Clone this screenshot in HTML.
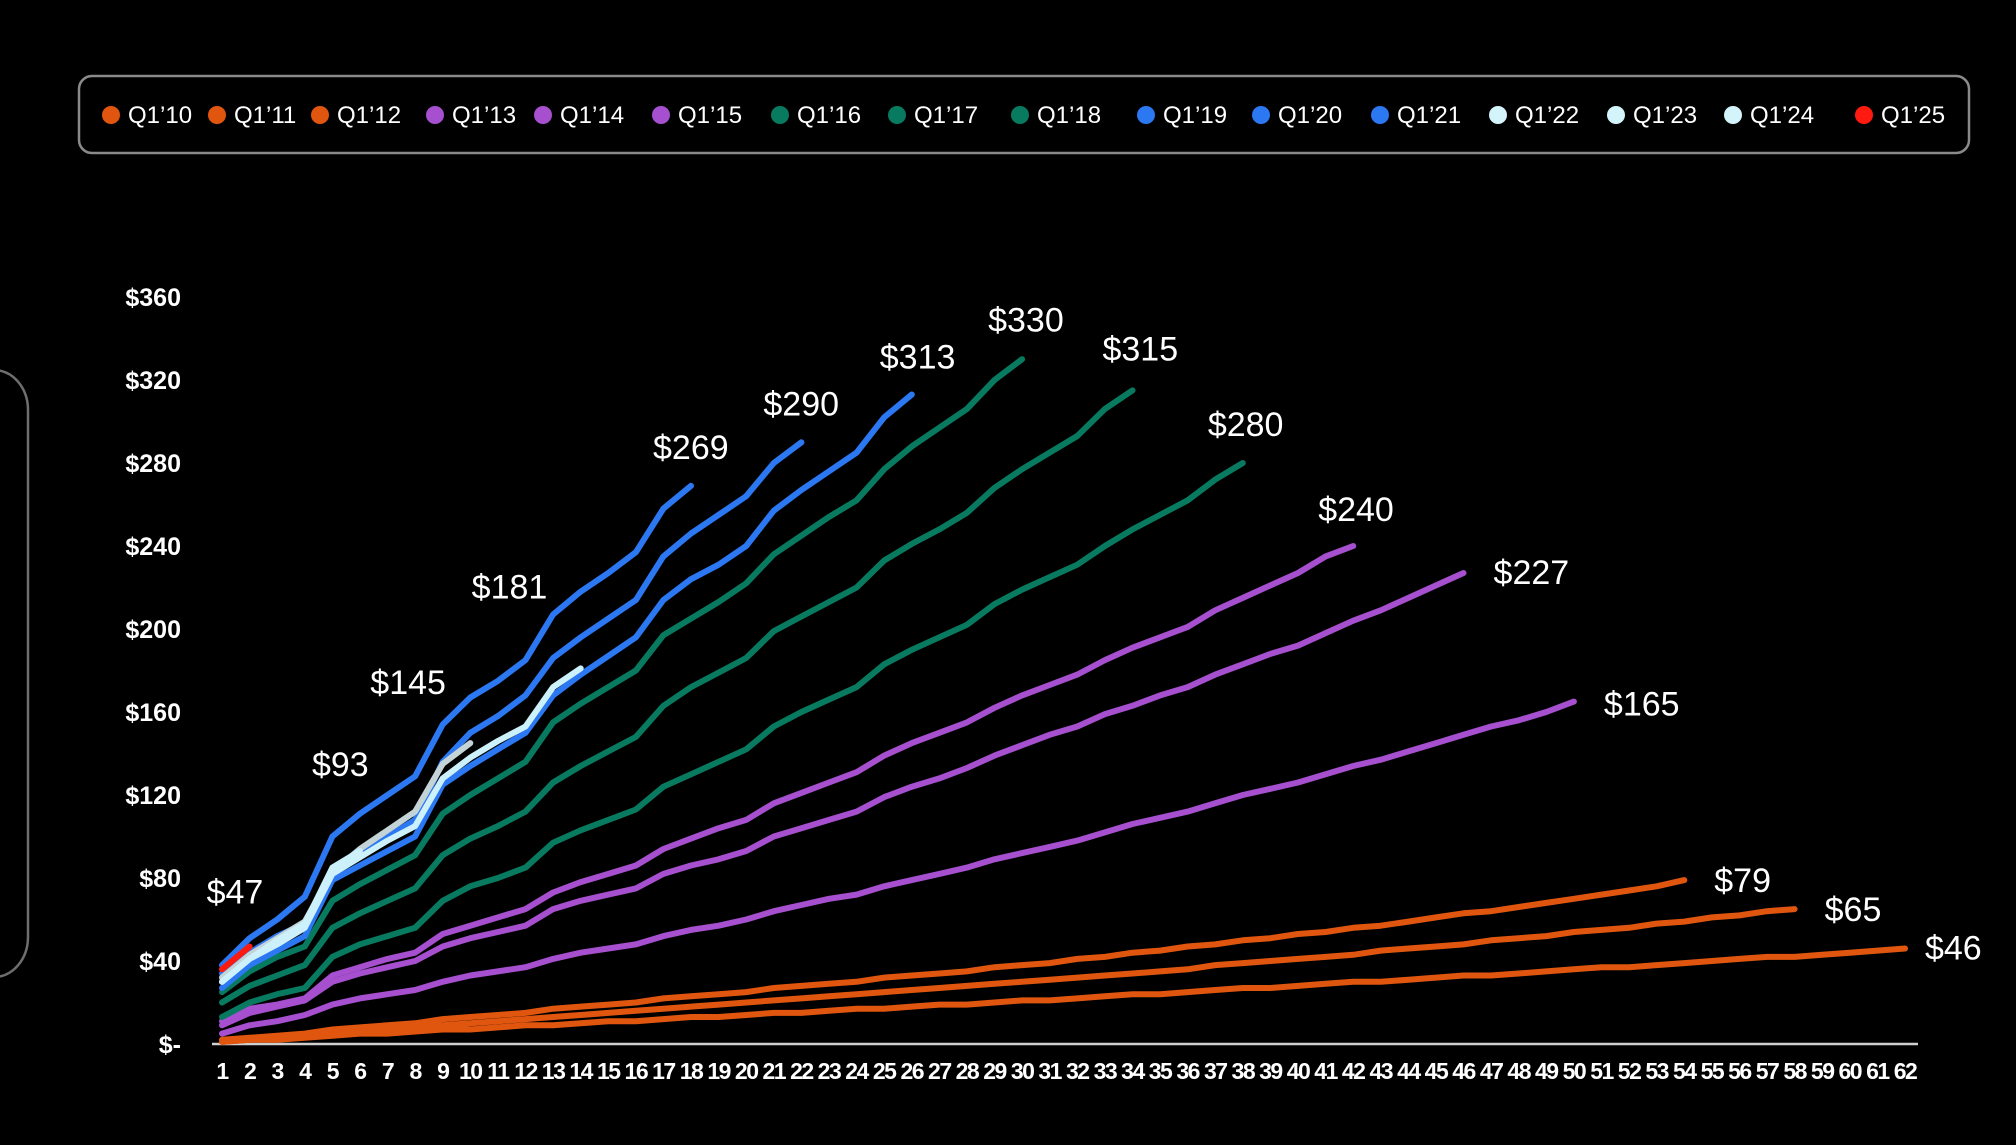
<!DOCTYPE html>
<html><head><meta charset="utf-8">
<style>
html,body{margin:0;padding:0;background:#000;}
body{width:2016px;height:1140px;overflow:hidden;font-family:"Liberation Sans",sans-serif;}
svg text{font-family:"Liberation Sans",sans-serif;fill:#fff;}
</style></head>
<body>
<svg id="chart" width="2016" height="1140" viewBox="0 0 2016 1140" xmlns="http://www.w3.org/2000/svg">
<rect x="0" y="0" width="2016" height="1140" fill="#000"/>
<rect x="-40" y="370" width="68" height="607" rx="40" fill="none" stroke="#6e6e6e" stroke-width="2.5"/>
<rect x="79" y="76" width="1890" height="77" rx="13" fill="none" stroke="#8a8a8a" stroke-width="2.5"/>
<g id="legend"></g>
<g id="axes"></g>
<g id="series"></g>
<g id="labels"></g>
</svg>
<script>
const cohorts = ["Q1’10","Q1’11","Q1’12","Q1’13","Q1’14","Q1’15","Q1’16","Q1’17","Q1’18","Q1’19","Q1’20","Q1’21","Q1’22","Q1’23","Q1’24","Q1’25"];
const colors = ["#e0560f","#e0560f","#e0560f","#a64fcf","#a64fcf","#a64fcf","#087a5f","#087a5f","#087a5f","#2b78f2","#2b78f2","#2b78f2","#cdf1fb","#c4d4d6","#cdf1fb","#ff1a10"];
const legendColors = ["#e0560f","#e0560f","#e0560f","#a64fcf","#a64fcf","#a64fcf","#087a5f","#087a5f","#087a5f","#2b78f2","#2b78f2","#2b78f2","#d4f4fb","#d4f4fb","#d4f4fb","#ff1a10"];
const yTicks = [0,40,80,120,160,200,240,280,320,360];
const yTickLabels = ["$-","$40","$80","$120","$160","$200","$240","$280","$320","$360"];
const q10 = [1,2,2,3,4,5,5,6,7,7,8,9,9,10,11,11,12,13,13,14,15,15,16,17,17,18,19,19,20,21,21,22,23,24,24,25,26,27,27,28,29,30,30,31,32,33,33,34,35,36,37,37,38,39,40,41,42,42,43,44,45,46];
const q11 = [1,2,3,4,6,6,7,8,9,10,11,12,13,14,15,16,17,18,19,20,21,22,23,24,25,26,27,28,29,30,31,32,33,34,35,36,38,39,40,41,42,43,45,46,47,48,50,51,52,54,55,56,58,59,61,62,64,65];
const q12 = [2,3,4,5,7,8,9,10,12,13,14,15,17,18,19,20,22,23,24,25,27,28,29,30,32,33,34,35,37,38,39,41,42,44,45,47,48,50,51,53,54,56,57,59,61,63,64,66,68,70,72,74,76,79];
const q13 = [5,9,11,14,19,22,24,26,30,33,35,37,41,44,46,48,52,55,57,60,64,67,70,72,76,79,82,85,89,92,95,98,102,106,109,112,116,120,123,126,130,134,137,141,145,149,153,156,160,165];
const q14 = [9,15,18,21,30,34,37,40,47,51,54,57,65,69,72,75,82,86,89,93,100,104,108,112,119,124,128,133,139,144,149,153,159,163,168,172,178,183,188,192,198,204,209,215,221,227];
const q15 = [11,17,19,22,33,37,41,44,53,57,61,65,73,78,82,86,94,99,104,108,116,121,126,131,139,145,150,155,162,168,173,178,185,191,196,201,209,215,221,227,235,240];
const q16 = [13,20,24,27,42,48,52,56,69,76,80,85,97,103,108,113,124,130,136,142,153,160,166,172,183,190,196,202,212,219,225,231,240,248,255,262,272,280];
const q17 = [20,28,33,38,56,63,69,75,91,99,105,112,126,134,141,148,163,172,179,186,199,206,213,220,233,241,248,256,268,277,285,293,306,315];
const q18 = [25,35,42,47,69,77,84,91,111,120,128,136,155,164,172,180,197,205,213,222,236,245,254,262,277,288,297,306,320,330];
const q19 = [27,38,45,52,79,86,93,100,125,134,142,150,168,178,187,196,214,224,231,240,257,267,276,285,302,313];
const q20 = [34,44,52,58,84,92,100,108,136,150,158,168,186,196,205,214,235,246,255,264,280,290];
const q21 = [38,51,60,71,100,111,120,129,154,167,175,185,207,218,227,237,258,269];
const q22 = [30,41,48,56,82,90,98,105,128,138,146,153,172,181];
const q23 = [32,43,51,59,83,94,103,112,135,145];
const q24 = [30,41,50,58,85,93];
const q25 = [36,47];
const seriesValues = [q10,q11,q12,q13,q14,q15,q16,q17,q18,q19,q20,q21,q22,q23,q24,q25];
const endLabels = ["$46","$65","$79","$165","$227","$240","$280","$315","$330","$313","$290","$269","$181","$145","$93","$47"];

const NS = "http://www.w3.org/2000/svg";
const X0 = 222, XSTEP = 27.59, Y0 = 1044, YPER = 747/360;
function xPos(i){ return X0 + i*XSTEP; }
function yPos(v){ return Y0 - v*YPER; }
function mk(tag, attrs, parent){ const e=document.createElementNS(NS,tag); for(const k in attrs) e.setAttribute(k,attrs[k]); parent.appendChild(e); return e; }

// legend
const legendDotX = [111,217,320,435,543,661,780,897,1020,1146,1261,1380,1498,1616,1733,1864];
const lg = document.getElementById('legend');
cohorts.forEach((c,i)=>{
  const g = mk('g',{},lg);
  
  
  mk('circle',{cx:legendDotX[i],cy:115,r:9,fill:legendColors[i]},g);
  const t = mk('text',{x:legendDotX[i]+17,y:123,'font-size':24},g);
  t.textContent = c;
});

// axes
const ax = document.getElementById('axes');
const base = mk('line',{x1:212,y1:Y0,x2:1918,y2:Y0,stroke:'#cfcfcf','stroke-width':2.5},ax);


yTicks.forEach((v,i)=>{
  const t = mk('text',{x:181,y:yPos(v)+9,'font-size':25,'text-anchor':'end','font-weight':'bold'},ax);
  
  
  t.textContent = yTickLabels[i];
});
for(let i=0;i<62;i++){
  const t = mk('text',{x:xPos(i),y:1079,'font-size':23,'text-anchor':'middle','letter-spacing':'-1.5','font-weight':'bold'},ax);
  
  
  t.textContent = String(i+1);
}

// series
const sg = document.getElementById('series');
const order = [0,1,2,3,4,5,6,7,8,9,10,11,13,12,14,15];
order.forEach(si=>{
  const vals = seriesValues[si];
  const pts = vals.map((v,i)=>xPos(i).toFixed(1)+','+yPos(v).toFixed(1)).join(' ');
  const p = mk('polyline',{points:pts,fill:'none',stroke:colors[si],'stroke-width':6,'stroke-linejoin':'round','stroke-linecap':'round'},sg);
  
  
});

// end labels (offsets are layout only)
const labelDX = [20,30,30,30,30,-35,-35,-30,-34,-32,-38,-38,-109,-100,-48,-43];
const labelDY = [11,12,12,14,11,-25,-27,-30,-28,-26,-27,-27,-70,-49,-75,-43];
const lab = document.getElementById('labels');
seriesValues.forEach((vals,si)=>{
  const n = vals.length-1;
  const t = mk('text',{x:xPos(n)+labelDX[si],y:yPos(vals[n])+labelDY[si],'font-size':34},lab);
  
  
  t.textContent = endLabels[si];
});
</script>
</body></html>
